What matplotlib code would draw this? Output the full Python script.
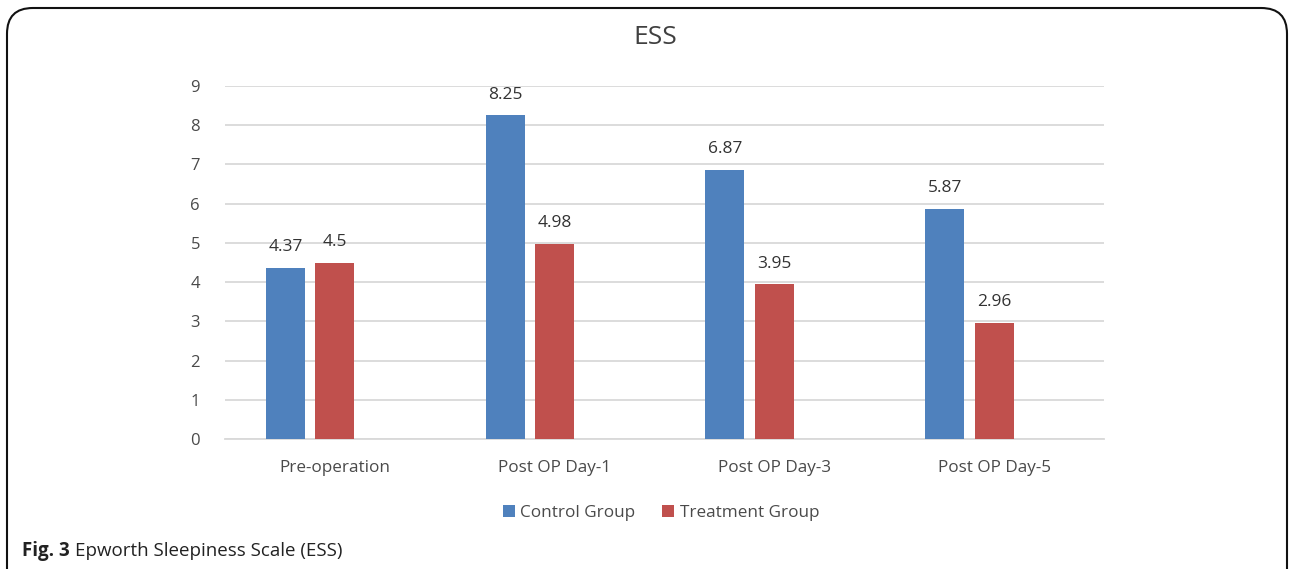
import matplotlib.pyplot as plt
import numpy as np
from matplotlib.patches import FancyBboxPatch

categories = ["Pre-operation", "Post OP Day-1", "Post OP Day-3", "Post OP Day-5"]
control = [4.37, 8.25, 6.87, 5.87]
treatment = [4.5, 4.98, 3.95, 2.96]
control_labels = ["4.37", "8.25", "6.87", "5.87"]
treatment_labels = ["4.5", "4.98", "3.95", "2.96"]
yticks = list(range(0, 10))

BLUE = "#4F81BD"
RED = "#C0504D"
TEXT = "#4a4a4a"
GRID = "#D9D9D9"

plt.rcParams["font.family"] = ["Open Sans", "DejaVu Sans"]

def main():
    fig = plt.figure(figsize=(12.9, 5.69), dpi=100)
    ax = fig.add_axes([225 / 1290, 1 - 439 / 569, 879 / 1290, 353 / 569])

    x = np.arange(len(categories))
    w = 0.177
    b1 = ax.bar(x - 0.225, control, w, color=BLUE, label="Control Group", zorder=3)
    b2 = ax.bar(x, treatment, w, color=RED, label="Treatment Group", zorder=3)

    for bars, labs in ((b1, control_labels), (b2, treatment_labels)):
        for bar, lab in zip(bars, labs):
            ax.annotate(lab, (bar.get_x() + bar.get_width() / 2, bar.get_height()),
                        xytext=(0, 9), textcoords="offset points",
                        ha="center", va="bottom", fontsize=12.5, color="#333333")

    ax.set_xlim(-0.5, 3.5)
    ax.set_ylim(0, 9)
    ax.set_yticks(yticks)
    ax.set_xticks(x)
    ax.set_xticklabels(categories)
    ax.tick_params(axis="both", length=0, labelcolor=TEXT)
    ax.tick_params(axis="y", pad=18, labelsize=12)
    ax.tick_params(axis="x", pad=15, labelsize=12.3)
    ax.grid(axis="y", color=GRID, linewidth=1.3, zorder=0)
    for s in ["top", "right", "left"]:
        ax.spines[s].set_visible(False)
    ax.spines["bottom"].set_color(GRID)
    ax.spines["bottom"].set_linewidth(1.3)

    fig.text(655 / 1290, 1 - 37 / 569, "ESS", ha="center", va="center",
             fontsize=19, color="#404040")

    fig.legend(handles=[b1, b2], loc="center", bbox_to_anchor=(661 / 1290, 1 - 513 / 569),
               ncol=2, frameon=False, fontsize=12.3, handlelength=0.7, handleheight=0.7,
               handletextpad=0.3, columnspacing=1.6, labelcolor=TEXT)

    t1 = fig.text(22 / 1290, 1 - 551 / 569, "Fig. 3", ha="left", va="center",
                  fontsize=13.5, fontweight="bold", color="#222222")
    fig.canvas.draw()
    ext = t1.get_window_extent()
    fig.text((ext.x1 + 5) / 1290, 1 - 551 / 569, "Epworth Sleepiness Scale (ESS)", ha="left",
             va="center", fontsize=13.5, color="#222222")

    box = FancyBboxPatch((7 / 1290, -0.1), 1280 / 1290, 1.1 - 8 / 569,
                         boxstyle="round,pad=0,rounding_size=0.02",
                         transform=fig.transFigure, fill=False,
                         edgecolor="#111111", linewidth=1.5, mutation_aspect=1290 / 569)
    fig.patches.append(box)

    fig.savefig("out.png", dpi=100)

if __name__ == "__main__":
    main()
